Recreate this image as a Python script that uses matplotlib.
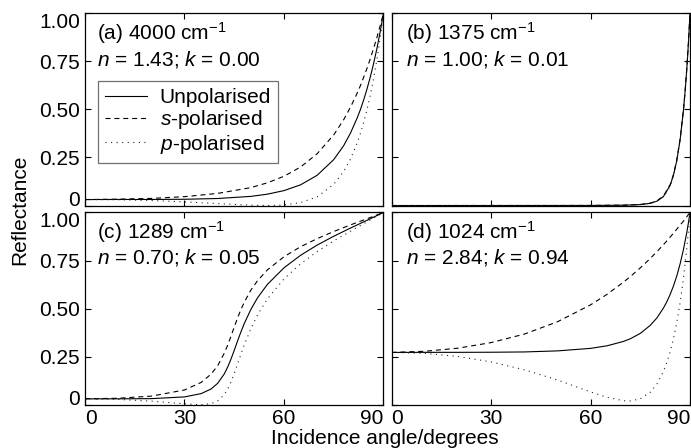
import matplotlib
matplotlib.use('Agg')
import matplotlib.pyplot as plt

plt.rcParams['font.family'] = ['Liberation Sans', 'DejaVu Sans']
plt.rcParams['mathtext.fontset'] = 'custom'
plt.rcParams['mathtext.rm'] = 'Liberation Sans'
plt.rcParams['mathtext.it'] = 'Liberation Sans:italic'
plt.rcParams['font.size'] = 15

# (a) 4000 cm-1
a_ang = [0, 10, 20, 30, 40, 50, 55, 60, 65, 70, 75, 78, 80, 82, 83, 84, 85, 86, 87, 88, 89, 89.5, 90]
a_s = [0.031, 0.033, 0.037, 0.046, 0.063, 0.093, 0.118, 0.152, 0.200, 0.269, 0.367, 0.446, 0.509, 0.581, 0.621, 0.665, 0.711, 0.761, 0.815, 0.872, 0.934, 0.966, 1.0]
a_p = [0.031, 0.030, 0.026, 0.019, 0.010, 0.002, 0.000, 0.003, 0.015, 0.045, 0.110, 0.177, 0.240, 0.322, 0.372, 0.430, 0.496, 0.571, 0.657, 0.756, 0.870, 0.933, 1.0]
a_u = [0.031, 0.0315, 0.0315, 0.0325, 0.0365, 0.0475, 0.059, 0.0775, 0.1075, 0.157, 0.2385, 0.311, 0.3745, 0.452, 0.4965, 0.547, 0.6035, 0.666, 0.736, 0.814, 0.902, 0.950, 1.0]

# (b) 1375 cm-1
b_ang = [0, 30, 50, 60, 70, 75, 78, 80, 82, 84, 85, 86, 87, 88, 88.5, 89, 89.5, 90]
b_s = [0.0, 0.0001, 0.0002, 0.0004, 0.0018, 0.0054, 0.0124, 0.0239, 0.0496, 0.1083, 0.1608, 0.2365, 0.344, 0.4952, 0.591, 0.7053, 0.840, 1.0]
b_p = [0.0, 0.0001, 0.0002, 0.0003, 0.0015, 0.0046, 0.0107, 0.021, 0.045, 0.101, 0.154, 0.229, 0.337, 0.490, 0.588, 0.701, 0.838, 1.0]
b_u = [0.0, 0.0001, 0.0002, 0.00035, 0.00165, 0.005, 0.01155, 0.02245, 0.0473, 0.1047, 0.1575, 0.2328, 0.3403, 0.4926, 0.590, 0.7032, 0.839, 1.0]

# (c) 1289 cm-1
c_ang = [0, 10, 20, 30, 35, 38, 40, 42, 43, 44, 45, 46, 47, 48, 50, 52, 55, 60, 65, 70, 75, 80, 85, 90]
c_s = [0.032, 0.035, 0.046, 0.078, 0.117, 0.160, 0.204, 0.269, 0.310, 0.356, 0.405, 0.452, 0.495, 0.533, 0.596, 0.645, 0.702, 0.770, 0.822, 0.864, 0.901, 0.935, 0.967, 1.0]
c_p = [0.032, 0.029, 0.020, 0.006, 0.001, 0.007, 0.021, 0.054, 0.082, 0.119, 0.164, 0.213, 0.263, 0.311, 0.396, 0.467, 0.551, 0.655, 0.733, 0.797, 0.852, 0.902, 0.951, 1.0]
c_u = [0.032, 0.032, 0.033, 0.042, 0.059, 0.083, 0.1125, 0.1615, 0.196, 0.2375, 0.284, 0.3325, 0.379, 0.422, 0.496, 0.556, 0.6265, 0.7125, 0.7775, 0.8305, 0.8765, 0.9185, 0.959, 1.0]

# (d) 1024 cm-1
d_ang = [0, 10, 20, 30, 40, 50, 60, 65, 70, 72, 75, 78, 80, 82, 83, 84, 85, 86, 87, 88, 89, 89.5, 90]
d_s = [0.273, 0.279, 0.295, 0.324, 0.368, 0.432, 0.520, 0.575, 0.639, 0.667, 0.712, 0.761, 0.796, 0.833, 0.852, 0.872, 0.892, 0.913, 0.934, 0.955, 0.977, 0.989, 1.0]
d_p = [0.273, 0.268, 0.252, 0.224, 0.183, 0.130, 0.068, 0.040, 0.022, 0.021, 0.032, 0.066, 0.108, 0.175, 0.220, 0.276, 0.344, 0.428, 0.531, 0.657, 0.811, 0.900, 1.0]
d_u = [0.273, 0.2735, 0.2735, 0.274, 0.2755, 0.281, 0.294, 0.3075, 0.3305, 0.344, 0.372, 0.4135, 0.452, 0.504, 0.536, 0.574, 0.618, 0.670, 0.7325, 0.806, 0.894, 0.945, 1.0]

titles = ['(a) 4000 cm$^{-1}$', '(b) 1375 cm$^{-1}$', '(c) 1289 cm$^{-1}$', '(d) 1024 cm$^{-1}$']
consts = ['$n$ = 1.43; $k$ = 0.00', '$n$ = 1.00; $k$ = 0.01',
          '$n$ = 0.70; $k$ = 0.05', '$n$ = 2.84; $k$ = 0.94']
panels = [(a_ang, a_u, a_s, a_p), (b_ang, b_u, b_s, b_p),
          (c_ang, c_u, c_s, c_p), (d_ang, d_u, d_s, d_p)]

xticks = [0, 30, 60, 90]
yticks = [0, 0.25, 0.5, 0.75, 1.0]
ylabels = ['0', '0.25', '0.50', '0.75', '1.00']

fig, axs = plt.subplots(2, 2, figsize=(6.91, 4.48), dpi=100)
fig.subplots_adjust(left=0.123, right=0.9986, bottom=0.096, top=0.971,
                    wspace=0.027, hspace=0.036)

for i, ax in enumerate(axs.flat):
    ang, u, s, p = panels[i]
    ax.plot(ang, u, color='k', lw=0.8, label='Unpolarised')
    ax.plot(ang, s, color='k', lw=0.8, ls=(0, (4.5, 3.5)), label='$s$-polarised')
    ax.plot(ang, p, color='0.15', lw=0.8, ls=(0, (1, 4)), label='$p$-polarised')
    ax.set_xlim(0, 90)
    ax.set_ylim(0, 1)
    ax.set_xticks(xticks)
    ax.set_xticklabels([str(t) for t in xticks])
    ax.set_yticks(yticks)
    ax.set_yticklabels(ylabels)
    ax.tick_params(direction='in', top=True, right=True, length=4, width=0.8)
    ax.tick_params(axis='y', pad=3.5)
    ax.tick_params(axis='x', pad=3)
    # keep end labels inside the panel span, as in the original
    yl = ax.get_yticklabels()
    yl[0].set_va('baseline')
    yl[-1].set_va('top')
    xl = ax.get_xticklabels()
    xl[0].set_ha('left')
    xl[-1].set_ha('right')
    if i % 2 == 1:
        ax.tick_params(labelleft=False)
    if i < 2:
        ax.tick_params(labelbottom=False)
    for sp in ax.spines.values():
        sp.set_linewidth(0.9)
    if i < 2:
        y1, y2 = 0.859, 0.729
    else:
        y1, y2 = 0.864, 0.737
    x0 = 0.04 if i % 2 == 0 else 0.047
    ax.text(x0, y1, titles[i], transform=ax.transAxes, va='baseline')
    ax.text(x0, y2, consts[i], transform=ax.transAxes, va='baseline')

leg = axs[0, 0].legend(loc='upper left', bbox_to_anchor=(0.044, 0.646),
                       borderaxespad=0, fancybox=False, handlelength=2.0,
                       labelspacing=0.05, borderpad=0.35, handletextpad=0.6)
leg.get_frame().set_edgecolor('0.3')
leg.get_frame().set_linewidth(0.9)

fig.text(0.029, 0.531, 'Reflectance', rotation=90, ha='center', va='center')
fig.text(0.557, 0.008, 'Incidence angle/degrees', ha='center', va='baseline')

fig.savefig('out.png', dpi=100)
